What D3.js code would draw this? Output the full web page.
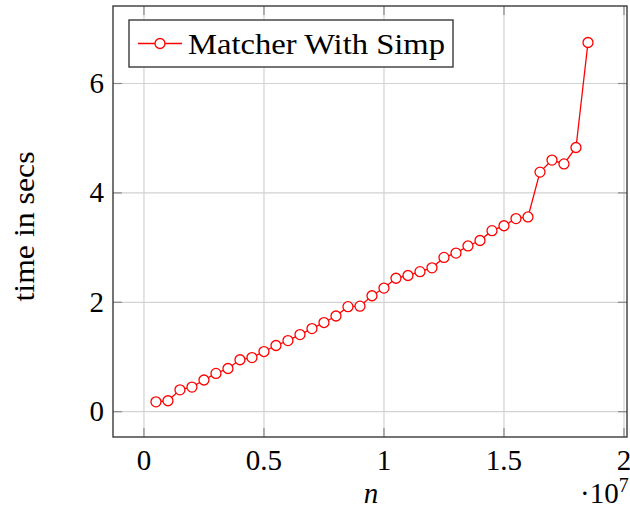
<!DOCTYPE html>
<html>
<head>
<meta charset="utf-8">
<script src="https://cdn.jsdelivr.net/npm/d3@7.9.0/dist/d3.min.js"></script>
<style>
  body { margin: 0; background: #fff; }
  svg { display: block; font-family: "Liberation Serif", "DejaVu Serif", serif; }
</style>
</head>
<body>
<svg id="chart" width="630" height="511"></svg>
<script>
// data
const nValues = [500000, 1000000, 1500000, 2000000, 2500000, 3000000, 3500000, 4000000,
  4500000, 5000000, 5500000, 6000000, 6500000, 7000000, 7500000, 8000000, 8500000,
  9000000, 9500000, 10000000, 10500000, 11000000, 11500000, 12000000, 12500000,
  13000000, 13500000, 14000000, 14500000, 15000000, 15500000, 16000000, 16500000,
  17000000, 17500000, 18000000, 18500000];
const timeSecs = [0.18, 0.20, 0.40, 0.45, 0.58, 0.70, 0.79, 0.95, 0.99, 1.10, 1.21, 1.30,
  1.41, 1.52, 1.63, 1.75, 1.92, 1.93, 2.12, 2.26, 2.44, 2.49, 2.56, 2.63, 2.82, 2.90,
  3.03, 3.13, 3.31, 3.40, 3.53, 3.56, 4.38, 4.60, 4.53, 4.83, 6.75];
const xTicks = [0, 5000000, 10000000, 15000000, 20000000];
const xTickLabels = ["0", "0.5", "1", "1.5", "2"];
const yTicks = [0, 2, 4, 6];
const seriesName = "Matcher With Simp";

const svg = d3.select("#chart");
const margin = { top: 6, right: 3, bottom: 74, left: 113 };
const width = 630 - margin.left - margin.right;
const height = 511 - margin.top - margin.bottom;

const x = d3.scaleLinear().domain([-1290000, 20125000]).range([0, width]);
const y = d3.scaleLinear().domain([-0.4625, 7.417]).range([height, 0]);

const g = svg.append("g").attr("transform", `translate(${margin.left},${margin.top})`);

// grid
g.append("g").selectAll("line").data(xTicks).enter().append("line")
  .attr("x1", d => x(d)).attr("x2", d => x(d))
  .attr("y1", 0).attr("y2", height)
  .attr("stroke", "#d2d2d2").attr("stroke-width", 1.2);
g.append("g").selectAll("line").data(yTicks).enter().append("line")
  .attr("y1", d => y(d)).attr("y2", d => y(d))
  .attr("x1", 0).attr("x2", width)
  .attr("stroke", "#d2d2d2").attr("stroke-width", 1.2);

// tick marks inside on all four sides
const tl = 9;
const ticks = g.append("g").attr("stroke", "#8a8a8a").attr("stroke-width", 1.2);
xTicks.forEach(d => {
  ticks.append("line").attr("x1", x(d)).attr("x2", x(d)).attr("y1", height).attr("y2", height - tl);
  ticks.append("line").attr("x1", x(d)).attr("x2", x(d)).attr("y1", 0).attr("y2", tl);
});
yTicks.forEach(d => {
  ticks.append("line").attr("y1", y(d)).attr("y2", y(d)).attr("x1", 0).attr("x2", tl);
  ticks.append("line").attr("y1", y(d)).attr("y2", y(d)).attr("x1", width).attr("x2", width - tl);
});

// frame
g.append("rect").attr("width", width).attr("height", height)
  .attr("fill", "none").attr("stroke", "#3a3a3a").attr("stroke-width", 1.4);

// tick labels
g.append("g").selectAll("text").data(xTicks).enter().append("text")
  .attr("x", d => x(d)).attr("y", height + 33)
  .attr("text-anchor", "middle").attr("font-size", 29)
  .text((d, i) => xTickLabels[i]);
g.append("g").selectAll("text").data(yTicks).enter().append("text")
  .attr("x", -9).attr("y", d => y(d) + 9.5)
  .attr("text-anchor", "end").attr("font-size", 29)
  .text(d => d);

// axis labels
g.append("text")
  .attr("x", x(10000000) - 13).attr("y", height + 66)
  .attr("text-anchor", "middle").attr("font-size", 29).attr("font-style", "italic")
  .text("n");
const mult = g.append("text")
  .attr("x", width - 47).attr("y", height + 66)
  .attr("font-size", 29);
mult.append("tspan").text("·10");
mult.append("tspan").attr("font-size", 20).attr("dy", -11).text("7");
g.append("text")
  .attr("transform", `translate(${-79},${height / 2 + 5}) rotate(-90)`)
  .attr("text-anchor", "middle").attr("font-size", 30)
  .attr("textLength", 150).attr("lengthAdjust", "spacingAndGlyphs")
  .text("time in secs");

// series
const pts = nValues.map((n, i) => ({ n: n, t: timeSecs[i] }));
const line = d3.line().x(d => x(d.n)).y(d => y(d.t));
g.append("path").datum(pts)
  .attr("fill", "none").attr("stroke", "#ff0000").attr("stroke-width", 1.3)
  .attr("d", line);
g.append("g").selectAll("circle").data(pts).enter().append("circle")
  .attr("cx", d => x(d.n)).attr("cy", d => y(d.t)).attr("r", 5)
  .attr("fill", "#fff").attr("stroke", "#ff0000").attr("stroke-width", 1.3);

// legend
const lg = g.append("g").attr("transform", "translate(16,14)");
lg.append("rect").attr("width", 324).attr("height", 47)
  .attr("fill", "#fff").attr("stroke", "#3a3a3a").attr("stroke-width", 1.4);
lg.append("line").attr("x1", 9).attr("x2", 53).attr("y1", 23.5).attr("y2", 23.5)
  .attr("stroke", "#ff0000").attr("stroke-width", 1.3);
lg.append("circle").attr("cx", 31).attr("cy", 23.5).attr("r", 5)
  .attr("fill", "#fff").attr("stroke", "#ff0000").attr("stroke-width", 1.3);
lg.append("text").attr("x", 59).attr("y", 33.5).attr("font-size", 30)
  .attr("textLength", 257).attr("lengthAdjust", "spacingAndGlyphs")
  .text(seriesName);
</script>
</body>
</html>
